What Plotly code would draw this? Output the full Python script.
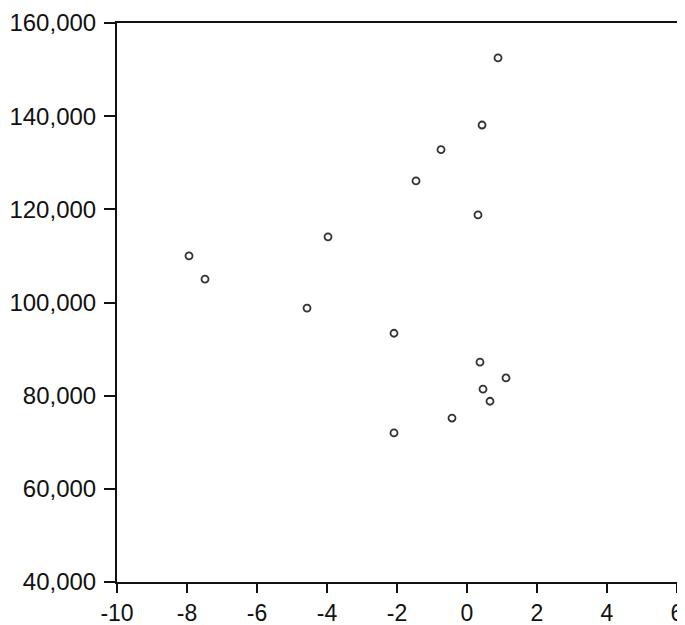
import plotly.graph_objects as go

x_vals = [0.886, 0.43, -0.743, -1.457, 0.314, -3.971, -7.943, -7.486, -4.571,
          -2.086, 0.371, 1.114, 0.457, 0.657, -0.429, -2.086]
y_vals = [152500, 138100, 132800, 126100, 118800, 114100, 110000, 105000, 98800,
          93400, 87200, 83800, 81400, 78800, 75200, 72000]

x_ticks = [-10, -8, -6, -4, -2, 0, 2, 4, 6]
y_ticks = [40000, 60000, 80000, 100000, 120000, 140000, 160000]
y_tick_text = ["40,000", "60,000", "80,000", "100,000", "120,000", "140,000", "160,000"]

fig = go.Figure()
fig.add_trace(go.Scatter(
    x=x_vals, y=y_vals, mode="markers",
    marker=dict(symbol="circle-open", size=7, color="#333333", line=dict(width=1.8, color="#333333")),
    showlegend=False, hoverinfo="x+y", cliponaxis=False,
))

axis_common = dict(
    showgrid=False, zeroline=False, showline=True, linecolor="#111111", linewidth=2,
    mirror=True, ticks="outside", tickwidth=2, tickcolor="#111111",
    automargin=False, ticklabeloverflow="allow",
)

fig.update_xaxes(range=[-10, 6], tickvals=x_ticks, ticktext=[str(v) for v in x_ticks],
                 ticklen=9,
                 tickfont=dict(family="Liberation Sans, Arial, sans-serif", size=23, color="#111111"),
                 **axis_common)
fig.update_yaxes(range=[40000, 160000], tickvals=y_ticks, ticktext=y_tick_text,
                 ticklen=11, ticklabelstandoff=3,
                 tickfont=dict(family="Liberation Sans, Arial, sans-serif", size=24, color="#111111"),
                 **axis_common)

# page body has an 8px default margin; size figure so the plot lands where the reference has it
fig.update_layout(
    width=677, height=617,
    margin=dict(l=109, r=8, t=15, b=43),
    plot_bgcolor="white", paper_bgcolor="white",
)

fig.write_html("out.html")
